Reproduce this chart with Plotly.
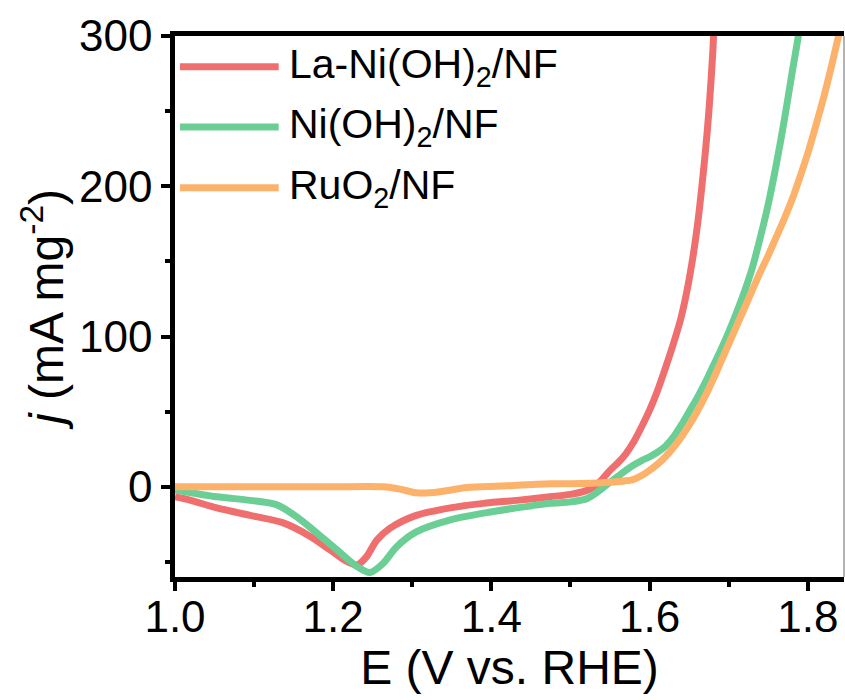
import plotly.graph_objects as go

# ---------------- data ----------------
series_names = ["La-Ni(OH)<sub>2</sub>/NF", "Ni(OH)<sub>2</sub>/NF", "RuO<sub>2</sub>/NF"]
series_colors = ["#EF6F6F", "#6BCF95", "#FCB26B"]

E_la = [1.000, 1.020, 1.053, 1.095, 1.137, 1.171, 1.196, 1.215, 1.230, 1.242, 1.255, 1.272,
        1.305, 1.348, 1.390, 1.432, 1.474, 1.500, 1.520, 1.530, 1.540, 1.550, 1.560, 1.570,
        1.580, 1.590, 1.600, 1.610, 1.620, 1.630, 1.640, 1.650, 1.660, 1.670, 1.675, 1.680, 1.6815]
j_la = [-6.6, -9, -14, -19, -24, -33, -42, -49, -52, -46.6, -35.5, -27.5,
        -19, -14, -11, -9, -6.6, -5, -2.5, 0, 5, 11, 16, 22,
        30, 40, 51, 64, 79, 95, 113, 138, 172, 220, 250, 290, 310]

E_ni = [1.000, 1.053, 1.095, 1.129, 1.154, 1.180, 1.205, 1.230, 1.2465, 1.263, 1.280, 1.305,
        1.348, 1.390, 1.432, 1.474, 1.500, 1.520, 1.530, 1.540, 1.550, 1.560, 1.570, 1.580,
        1.590, 1.600, 1.610, 1.620, 1.630, 1.640, 1.650, 1.660, 1.670, 1.680, 1.690, 1.700,
        1.710, 1.720, 1.730, 1.740, 1.750, 1.760, 1.770, 1.780, 1.788, 1.790]
j_ni = [-2, -6.6, -9, -12, -20, -31, -42, -53, -57, -51, -40, -30,
        -22, -17.5, -14, -11, -10, -8, -5, -1, 3, 7, 11, 14.5,
        17.5, 20, 23, 27, 33, 41, 50, 59, 69, 80, 91, 103,
        116, 130, 146, 166, 188, 214, 243, 275, 300, 310]

E_ru = [1.000, 1.100, 1.200, 1.263, 1.284, 1.305, 1.322, 1.335, 1.369, 1.411, 1.474, 1.500,
        1.550, 1.570, 1.580, 1.590, 1.600, 1.610, 1.620, 1.630, 1.640, 1.650, 1.660, 1.670,
        1.680, 1.690, 1.700, 1.710, 1.720, 1.730, 1.740, 1.750, 1.760, 1.770, 1.780, 1.790,
        1.800, 1.810, 1.820, 1.830, 1.838, 1.843]
j_ru = [0, 0, 0, 0, -1.5, -4, -4, -3.3, -0.5, 0.5, 2, 2,
        3, 4, 5, 7.5, 11, 15, 20, 26, 33, 41, 50, 60,
        71, 83, 95, 107, 119, 131, 143, 154, 166, 178, 191, 206,
        222, 240, 259, 280, 298, 309]

x_title = "E (V vs. RHE)"
y_title = "<i>j</i> (mA mg<sup>-2</sup>)"

FONT = "Liberation Sans, Arial, sans-serif"

fig = go.Figure()
for E, j, name, col in zip([E_la, E_ni, E_ru], [j_la, j_ni, j_ru], series_names, series_colors):
    fig.add_trace(go.Scatter(x=E, y=j, mode="lines", name=name,
                             line=dict(color=col, width=7, shape="spline", smoothing=0.8),
                             showlegend=False))

# manual legend (long line samples, as in the reference)
leg_y = [0.943, 0.832, 0.7196]
for name, col, yy in zip(series_names, series_colors, leg_y):
    fig.add_shape(type="line", xref="paper", yref="paper", x0=0.0075, x1=0.155, y0=yy, y1=yy,
                  line=dict(color=col, width=7))
    fig.add_annotation(xref="paper", yref="paper", x=0.168, y=yy, text=name, showarrow=False,
                       xanchor="left", yanchor="middle", font=dict(family=FONT, size=41, color="black"))

# thin right border
fig.add_shape(type="line", xref="paper", yref="paper", x0=1, x1=1, y0=0, y1=1,
              line=dict(color="#9a9a9a", width=1.5))

fig.update_layout(
    width=845, height=700,
    margin=dict(l=175, r=1, t=36, b=123),
    paper_bgcolor="white", plot_bgcolor="white",
    font=dict(family=FONT, size=44, color="black"),
)
fig.update_xaxes(
    range=[1.0, 1.8458], tick0=1.0, dtick=0.2, tickformat=".1f",
    showline=True, linecolor="black", linewidth=4.5, mirror=True,
    ticks="outside", ticklen=9, tickwidth=4, tickcolor="black",
    minor=dict(dtick=0.1, ticks="outside", ticklen=5, tickwidth=3.5, tickcolor="black", showgrid=False),
    showgrid=False, zeroline=False, ticklabelstandoff=-12,
    title=dict(text=x_title, font=dict(size=48), standoff=0),
    tickfont=dict(size=44),
)
fig.update_yaxes(
    range=[-60, 300], tick0=0, dtick=100,
    showline=True, linecolor="black", linewidth=4.5,
    ticks="outside", ticklen=9, tickwidth=4, tickcolor="black",
    minor=dict(dtick=50, ticks="outside", ticklen=5, tickwidth=3.5, tickcolor="black", showgrid=False),
    showgrid=False, zeroline=False,
    title=dict(text=y_title, font=dict(size=48), standoff=2),
    tickfont=dict(size=44),
)

fig.write_html("out.html")
